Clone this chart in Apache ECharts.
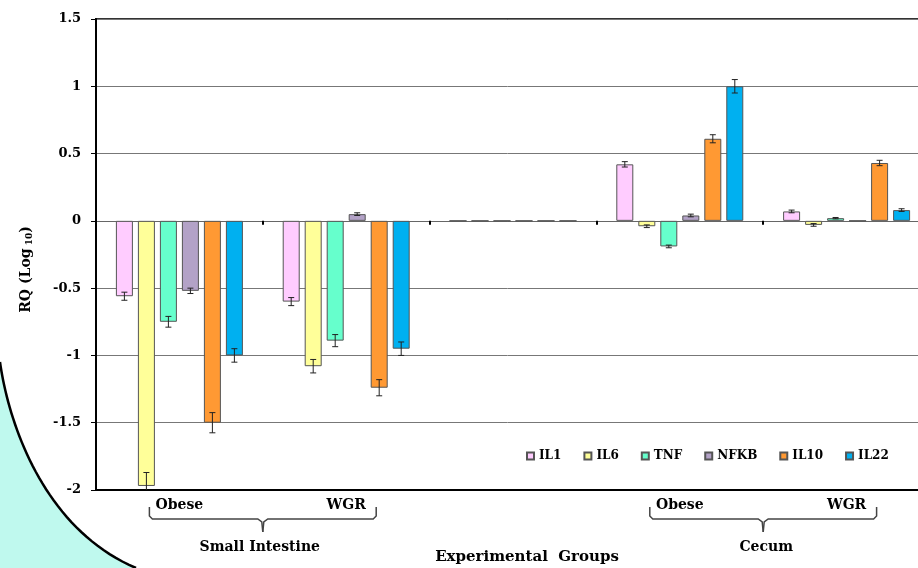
<!DOCTYPE html>
<html><head><meta charset="utf-8">
<script src="https://cdn.jsdelivr.net/npm/echarts@6/dist/echarts.min.js"></script>
<style>html,body{margin:0;padding:0;background:#fff}#c{width:918px;height:568px}</style>
</head><body><div id="c"></div>
<script>
// ---- data ----
const groups = ['Obese', 'WGR', '', 'Obese', 'WGR'];
const regionLabels = ['Small Intestine', 'Cecum'];
const axisTitle = 'Experimental  Groups';
const seriesNames = ['IL1', 'IL6', 'TNF', 'NFKB', 'IL10', 'IL22'];
const IL1  = [-0.56, -0.60, 0, 0.42, 0.07];
const IL6  = [-1.97, -1.08, 0, -0.04, -0.03];
const TNF  = [-0.75, -0.89, 0, -0.19, 0.02];
const NFKB = [-0.52, 0.05, 0, 0.04, 0];
const IL10 = [-1.50, -1.24, 0, 0.61, 0.43];
const IL22 = [-1.00, -0.95, 0, 1.00, 0.08];
const IL1_err  = [0.03, 0.03, 0, 0.02, 0.01];
const IL6_err  = [0.10, 0.05, 0, 0.01, 0.01];
const TNF_err  = [0.04, 0.045, 0, 0.01, 0.005];
const NFKB_err = [0.02, 0.01, 0, 0.01, 0];
const IL10_err = [0.075, 0.06, 0, 0.03, 0.02];
const IL22_err = [0.05, 0.05, 0, 0.05, 0.01];
const yMin = -2, yMax = 1.5, yStep = 0.5;

const values = [IL1, IL6, TNF, NFKB, IL10, IL22];
const errors = [IL1_err, IL6_err, TNF_err, NFKB_err, IL10_err, IL22_err];
const colors = ['#ffccff', '#ffff99', '#66ffcc', '#b3a2c7', '#ff9933', '#00b0f0'];

const FONT = '"DejaVu Serif", "Liberation Serif", serif';
const BAR_W = 17, BAR_GAP = 5;

const chart = echarts.init(document.getElementById('c'), null, {renderer: 'canvas'});

const series = [];
seriesNames.forEach((n, i) => {
  series.push({
    type: 'bar', name: n, data: values[i], xAxisIndex: 0, yAxisIndex: 0,
    barWidth: BAR_W, barGap: (BAR_GAP / BAR_W * 100).toFixed(1) + '%',
    itemStyle: {color: colors[i], borderColor: '#555', borderWidth: 1},
    emphasis: {disabled: true}, z: 3
  });
});
seriesNames.forEach((n, i) => {
  series.push({
    type: 'custom', name: n + ' SE', xAxisIndex: 0, yAxisIndex: 0, z: 6, clip: true,
    data: values[i].map((v, k) => [k, v, errors[i][k]]),
    renderItem(params, api) {
      const e = api.value(2);
      if (!e) return {type: 'group', children: []};
      const cat = api.value(0), v = api.value(1);
      const x = api.coord([cat, v])[0] + (i - 2.5) * (BAR_W + BAR_GAP);
      const y1 = api.coord([cat, v + e])[1], y2 = api.coord([cat, v - e])[1];
      const st = {stroke: '#222', lineWidth: 1};
      return {type: 'group', children: [
        {type: 'line', shape: {x1: x, y1: y1, x2: x, y2: y2}, style: st},
        {type: 'line', shape: {x1: x - 3, y1: y1, x2: x + 3, y2: y1}, style: st},
        {type: 'line', shape: {x1: x - 3, y1: y2, x2: x + 3, y2: y2}, style: st}
      ]};
    }
  });
});

chart.setOption({
  animation: false,
  backgroundColor: '#fff',
  grid: {left: 96, top: 19, width: 834, bottom: 78, show: true, outerBoundsMode: 'none',
         borderColor: '#333', borderWidth: 2, backgroundColor: 'transparent', containLabel: false},
  legend: {
    data: seriesNames, left: 526, top: 450, padding: 0, itemGap: 22,
    itemWidth: 7, itemHeight: 7, icon: 'rect',
    textStyle: {fontFamily: FONT, fontWeight: 'bold', fontSize: 12, color: '#000'}
  },
  xAxis: [
    {type: 'category', data: groups, position: 'bottom',
     axisLine: {onZero: false, lineStyle: {color: '#000', width: 2}},
     axisTick: {show: false}, splitLine: {show: false},
     axisLabel: {interval: 0, margin: 8, fontFamily: FONT, fontWeight: 'bold', fontSize: 14, color: '#000'}},
    {type: 'category', data: groups, position: 'bottom',
     axisLine: {onZero: true, lineStyle: {color: '#666', width: 1}},
     axisTick: {show: true, length: 4, lineStyle: {color: '#000', width: 2}},
     axisLabel: {show: false}, splitLine: {show: false}}
  ],
  yAxis: {
    type: 'value', min: yMin, max: yMax, interval: yStep,
    axisLine: {show: true, onZero: false, lineStyle: {color: '#000', width: 2}},
    axisTick: {show: true, length: 5, lineStyle: {color: '#000', width: 1}},
    splitLine: {show: true, lineStyle: {color: '#777', width: 1}},
    axisLabel: {margin: 15, fontFamily: FONT, fontWeight: 'bold', fontSize: 13, color: '#000'},
    name: '{a|RQ (Log}{s| 10}{a|)}', nameLocation: 'middle', nameGap: 62, nameRotate: 90,
    nameTextStyle: {padding: [0, 30, 0, 0], rich: {
      a: {fontFamily: FONT, fontWeight: 'bold', fontSize: 14, color: '#000'},
      s: {fontFamily: FONT, fontWeight: 'bold', fontSize: 9, color: '#000', verticalAlign: 'bottom', padding: [6, 0, 0, 0]}
    }}
  },
  series: series
});

// ---- decorations placed from the axes ----
function xPix(i) { return chart.convertToPixel({xAxisIndex: 0}, i); }
const yBottom = chart.convertToPixel({yAxisIndex: 0}, yMin);
const c = groups.map((g, i) => xPix(i));
function brace(L, R, C, yTop) {
  const yH = yTop + 12, yB = yTop + 25;
  const st = {stroke: '#444', lineWidth: 1.5, fill: null};
  return [
    {type: 'polyline', shape: {points: [[L, yTop], [L, yH - 3], [L + 3, yH], [C - 5, yH], [C - 1, yH + 3], [C, yB]]}, style: st},
    {type: 'polyline', shape: {points: [[R, yTop], [R, yH - 3], [R - 3, yH], [C + 5, yH], [C + 1, yH + 3], [C, yB]]}, style: st}
  ];
}
// background arc (slide decoration) sampled from a cubic bezier
const P = [[0, 362], [8, 420], [42, 528], [136, 568]];
const arcPts = [];
for (let k = 0; k <= 40; k++) {
  const t = k / 40, u = 1 - t;
  arcPts.push([
    u*u*u*P[0][0] + 3*u*u*t*P[1][0] + 3*u*t*t*P[2][0] + t*t*t*P[3][0],
    u*u*u*P[0][1] + 3*u*u*t*P[1][1] + 3*u*t*t*P[2][1] + t*t*t*P[3][1]
  ]);
}
const siC = (c[0] + c[1]) / 2, ceC = (c[3] + c[4]) / 2;
const textSt = {fontFamily: FONT, fontWeight: 'bold', fontSize: 14, fill: '#000', align: 'center', verticalAlign: 'middle'};
chart.setOption({graphic: [
  {type: 'polygon', z: -10, silent: true, shape: {points: arcPts.concat([[0, 568]])}, style: {fill: '#bff9ee', stroke: null}},
  {type: 'polyline', z: -9, silent: true, shape: {points: arcPts}, style: {stroke: '#000', lineWidth: 2.5, fill: null}},
  ...brace(c[0] - 30, c[1] + 30, siC, yBottom + 17),
  ...brace(c[3] - 30, c[4] + 30, ceC, yBottom + 17),
  {type: 'text', x: siC - 3, y: yBottom + 57, style: Object.assign({text: regionLabels[0]}, textSt)},
  {type: 'text', x: ceC + 3, y: yBottom + 57, style: Object.assign({text: regionLabels[1]}, textSt)},
  {type: 'text', x: c[2] + 14, y: yBottom + 67, style: Object.assign({text: axisTitle}, textSt, {fontSize: 15})}
]});
</script></body></html>
